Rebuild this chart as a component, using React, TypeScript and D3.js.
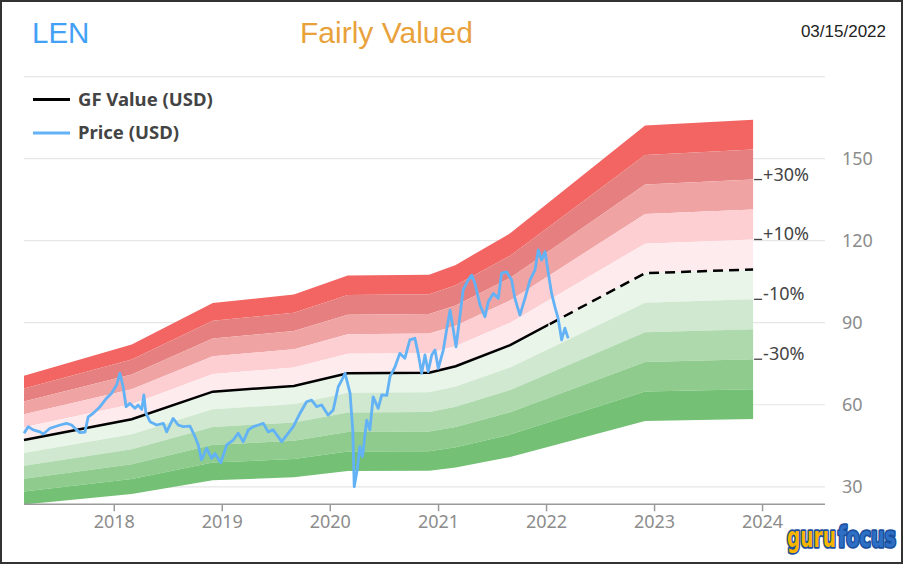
import * as React from "react";
import * as d3 from "d3";

// GF Value (USD) anchor points
const gfDates = [
  "2017-03-02", "2018-03-01", "2018-11-30", "2019-08-31", "2020-02-29",
  "2020-11-30", "2021-02-28", "2021-08-31", "2022-11-30", "2023-11-30",
];
const gfValues = [47.1, 54.7, 64.8, 66.9, 71.5, 71.7, 74.1, 81.8, 108.1, 109.5];
const gfEstimateFrom = "2022-01-07";

// Price (USD)
const priceDates = [
  "2017-03-02", "2017-03-16", "2017-04-02", "2017-04-25", "2017-05-06", "2017-05-29",
  "2017-07-02", "2017-07-24", "2017-08-10", "2017-08-27", "2017-09-07", "2017-09-24",
  "2017-10-05", "2017-10-22", "2017-11-14", "2017-12-06", "2017-12-23", "2018-01-09",
  "2018-01-20", "2018-01-31", "2018-02-10", "2018-02-23", "2018-03-12", "2018-03-23",
  "2018-04-04", "2018-04-11", "2018-04-18", "2018-05-02", "2018-05-24", "2018-06-16",
  "2018-06-27", "2018-07-19", "2018-08-05", "2018-08-22", "2018-09-14", "2018-10-01",
  "2018-10-12", "2018-10-23", "2018-11-09", "2018-11-26", "2018-12-07", "2018-12-27",
  "2019-01-16", "2019-02-07", "2019-02-24", "2019-03-13", "2019-03-30", "2019-04-16",
  "2019-05-03", "2019-05-20", "2019-06-05", "2019-06-22", "2019-07-21", "2019-08-07",
  "2019-08-29", "2019-09-21", "2019-10-13", "2019-10-30", "2019-11-16", "2019-12-03",
  "2019-12-25", "2020-01-11", "2020-01-28", "2020-02-09", "2020-02-20", "2020-03-08",
  "2020-03-17", "2020-03-22", "2020-04-01", "2020-04-10", "2020-04-19", "2020-05-03",
  "2020-05-14", "2020-05-25", "2020-06-11", "2020-06-23", "2020-07-10", "2020-07-21",
  "2020-08-07", "2020-08-23", "2020-09-09", "2020-09-26", "2020-10-13", "2020-10-24",
  "2020-11-05", "2020-11-16", "2020-11-27", "2020-12-09", "2020-12-20", "2020-12-31",
  "2021-01-17", "2021-01-28", "2021-02-09", "2021-02-20", "2021-03-01", "2021-03-14",
  "2021-03-25", "2021-04-11", "2021-04-23", "2021-05-04", "2021-05-21", "2021-06-07",
  "2021-06-18", "2021-07-05", "2021-07-22", "2021-08-02", "2021-08-19", "2021-09-05",
  "2021-09-16", "2021-10-03", "2021-10-20", "2021-11-06", "2021-11-23", "2021-12-04",
  "2021-12-15", "2021-12-27", "2022-01-07", "2022-01-18", "2022-01-29", "2022-02-09",
  "2022-02-21", "2022-03-04", "2022-03-15",
];
const priceValues = [
  49.6, 52.0, 50.8, 50.1, 49.3, 51.4,
  52.6, 53.2, 52.6, 50.8, 49.8, 50.0,
  55.6, 56.9, 59.3, 62.4, 64.2, 67.2,
  71.5, 66.6, 59.3, 60.5, 58.7, 59.9,
  58.3, 63.6, 56.9, 53.8, 52.6, 53.2,
  50.1, 55.0, 52.6, 52.0, 52.2, 48.3,
  45.3, 39.8, 44.1, 40.4, 42.2, 38.8,
  45.3, 47.1, 49.6, 46.5, 50.8, 52.0,
  52.6, 53.2, 50.1, 50.8, 46.5, 48.9,
  52.0, 56.9, 61.1, 61.7, 59.3, 59.9,
  56.2, 58.1, 66.6, 69.0, 71.5, 64.2,
  50.8, 30.0, 36.1, 44.7, 41.0, 54.4,
  50.8, 62.9, 58.7, 63.6, 63.4, 70.3,
  73.9, 78.8, 77.0, 83.7, 84.3, 78.8,
  71.5, 78.2, 72.1, 78.2, 80.0, 73.3,
  80.0, 87.3, 94.6, 87.3, 81.2, 92.2,
  102.0, 105.6, 107.4, 104.4, 96.5, 92.2,
  97.7, 100.7, 98.9, 108.1, 108.6, 105.6,
  98.9, 92.8, 98.9, 105.6, 109.3, 116.6,
  112.9, 116.0, 108.1, 100.7, 95.9, 91.6,
  83.7, 88.0, 84.3,
];

// band multipliers of GF Value, top to bottom
const bandLevels = [1.5, 1.4, 1.3, 1.2, 1.1, 1.0, 0.9, 0.8, 0.7, 0.6, 0.5];
const bandColors = [
  "#F26562", "#E67F7F", "#EFA3A3", "#FDCED2", "#FEEBEE",
  "#EAF5EA", "#CFE8CF", "#AED9AD", "#8ECB8C", "#74C175",
];
const bandLabels = [
  { level: 1.3, text: "+30%" },
  { level: 1.1, text: "+10%" },
  { level: 0.9, text: "-10%" },
  { level: 0.7, text: "-30%" },
];
const yTicks = [30, 60, 90, 120, 150, 180];
const yLabelTicks = [30, 60, 90, 120, 150];
const xTickYears = [2018, 2019, 2020, 2021, 2022, 2023, 2024];

const W = 903;
const H = 564;
const FONT = "'Noto Sans', sans-serif";
const ARIAL = "'Liberation Sans', Arial, sans-serif";

const GFChart: React.FC = () => {
  const svgRef = React.useRef<SVGSVGElement>(null);

  React.useEffect(() => {
    const svg = d3.select(svgRef.current);
    svg.selectAll("*").remove();

    const parse = d3.timeParse("%Y-%m-%d");
    const gf = gfDates.map((d, i) => ({ date: parse(d)!, v: gfValues[i] }));
    const price = priceDates.map((d, i) => ({ date: parse(d)!, v: priceValues[i] }));
    const split = parse(gfEstimateFrom)!;

    const x = d3.scaleTime()
      .domain([new Date(2017, 2, 2), new Date(2024, 6, 30)])
      .range([24, 825]);
    const y = d3.scaleLinear().domain([23.6, 180]).range([504.3, 76.6]);

    svg.append("rect")
      .attr("width", W).attr("height", H).attr("fill", "#fff");

    // titles
    svg.append("text").attr("x", 32).attr("y", 43)
      .attr("font-family", ARIAL).attr("font-size", 29.5)
      .attr("fill", "#42A1F4").text("LEN");
    svg.append("text").attr("x", 300).attr("y", 43)
      .attr("font-family", ARIAL).attr("font-size", 30)
      .attr("fill", "#E9A23B").text("Fairly Valued");
    svg.append("text").attr("x", 886).attr("y", 37).attr("text-anchor", "end")
      .attr("font-family", ARIAL).attr("font-size", 17)
      .attr("fill", "#222").text("03/15/2022");

    // grid
    svg.append("g").selectAll("line").data(yTicks).enter().append("line")
      .attr("x1", 24).attr("x2", 825)
      .attr("y1", (d) => y(d)).attr("y2", (d) => y(d))
      .attr("stroke", "#e6e6e6").attr("stroke-width", 1.2);
    svg.append("g").selectAll("text").data(yLabelTicks).enter().append("text")
      .attr("x", 842).attr("y", (d) => y(d)).attr("dy", "0.35em")
      .attr("font-family", FONT).attr("font-size", 18).attr("fill", "#8c8c8c")
      .text((d) => d);

    // valuation bands
    const bands = svg.append("g");
    bandColors.forEach((c, i) => {
      const area = d3.area<{ date: Date; v: number }>()
        .x((d) => x(d.date))
        .y0((d) => y(d.v * bandLevels[i + 1]))
        .y1((d) => y(d.v * bandLevels[i]));
      bands.append("path").attr("d", area(gf)!).attr("fill", c);
    });

    // band labels at right end
    const last = gf[gf.length - 1];
    const lx = x(last.date);
    bandLabels.forEach((b) => {
      const ly = y(last.v * b.level);
      svg.append("line").attr("x1", lx + 1).attr("x2", lx + 9)
        .attr("y1", ly).attr("y2", ly).attr("stroke", "#444").attr("stroke-width", 1.3);
      svg.append("text").attr("x", lx + 10).attr("y", ly + 1)
        .attr("font-family", FONT).attr("font-size", 18).attr("fill", "#444")
        .text(b.text);
    });

    // GF value line: solid then dashed (estimate)
    const line = d3.line<{ date: Date; v: number }>()
      .x((d) => x(d.date)).y((d) => y(d.v));
    const defs = svg.append("defs");
    defs.append("clipPath").attr("id", "clip-solid").append("rect")
      .attr("x", 0).attr("y", 0).attr("width", x(split)).attr("height", H);
    defs.append("clipPath").attr("id", "clip-dash").append("rect")
      .attr("x", x(split)).attr("y", 0).attr("width", W - x(split)).attr("height", H);
    svg.append("path").attr("d", line(gf)!).attr("fill", "none")
      .attr("stroke", "#000").attr("stroke-width", 2.5)
      .attr("clip-path", "url(#clip-solid)");
    svg.append("path").attr("d", line(gf)!).attr("fill", "none")
      .attr("stroke", "#000").attr("stroke-width", 2.5)
      .attr("stroke-dasharray", "10,6")
      .attr("clip-path", "url(#clip-dash)");

    // price line
    svg.append("path").attr("d", line(price)!).attr("fill", "none")
      .attr("stroke", "#62B2F5").attr("stroke-width", 2.8)
      .attr("stroke-linejoin", "round");

    // x axis
    const axisY = 504.3;
    svg.append("line").attr("x1", 24).attr("x2", 825)
      .attr("y1", axisY).attr("y2", axisY)
      .attr("stroke", "#9a9a9a").attr("stroke-width", 1.5);
    const xt = svg.append("g").selectAll("g").data(xTickYears).enter().append("g");
    xt.append("line")
      .attr("x1", (d) => x(new Date(d, 0, 1))).attr("x2", (d) => x(new Date(d, 0, 1)))
      .attr("y1", axisY).attr("y2", axisY + 7)
      .attr("stroke", "#9a9a9a").attr("stroke-width", 1.5);
    xt.append("text")
      .attr("x", (d) => x(new Date(d, 0, 1))).attr("y", 528)
      .attr("text-anchor", "middle")
      .attr("font-family", FONT).attr("font-size", 18).attr("fill", "#8c8c8c")
      .text((d) => d);

    // legend
    const legend = [
      { label: "GF Value (USD)", color: "#000", ly: 99.5 },
      { label: "Price (USD)", color: "#62B2F5", ly: 133 },
    ];
    legend.forEach((l) => {
      svg.append("line").attr("x1", 33).attr("x2", 70)
        .attr("y1", l.ly).attr("y2", l.ly)
        .attr("stroke", l.color).attr("stroke-width", 3);
      svg.append("text").attr("x", 78).attr("y", l.ly).attr("dy", "0.35em")
        .attr("font-family", FONT).attr("font-size", 18.5).attr("font-weight", "bold")
        .attr("fill", "#444").text(l.label);
    });

    // logo: tall condensed letters, squeezed to fit their slots
    const logoParts = [
      { text: "guru", x0: 787, w: 49, fill: "#F7B500" },
      { text: "focus", x0: 838, w: 58, fill: "#2D6FC4" },
    ];
    logoParts.forEach((p) => {
      const g = svg.append("g");
      const t = g.append("text").attr("x", 0).attr("y", 0)
        .attr("font-family", "'DejaVu Sans Condensed', 'DejaVu Sans', sans-serif")
        .attr("font-size", 28).attr("font-weight", "bold")
        .attr("fill", p.fill)
        .attr("stroke", "#1B4F9E").attr("stroke-width", 3.5)
        .attr("paint-order", "stroke").attr("stroke-linejoin", "round")
        .text(p.text);
      const natural = (t.node() as SVGTextElement).getComputedTextLength() || p.w;
      g.attr("transform", `translate(${p.x0},547) scale(${p.w / natural},1)`);
    });

    // border
    svg.append("rect").attr("x", 1).attr("y", 1)
      .attr("width", W - 2).attr("height", H - 2)
      .attr("fill", "none").attr("stroke", "#333").attr("stroke-width", 2);
  }, []);

  return (
    <svg
      ref={svgRef}
      width={W}
      height={H}
      style={{ position: "absolute", left: 0, top: 0, display: "block" }}
    />
  );
};

export default function App() {
  return <GFChart />;
}
